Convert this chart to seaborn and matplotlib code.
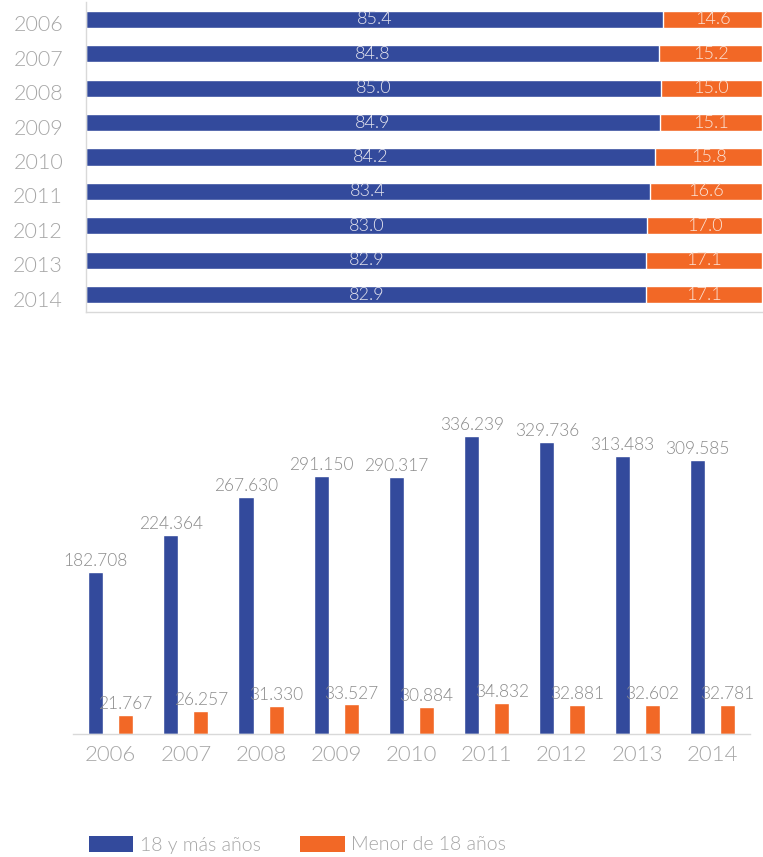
import matplotlib
matplotlib.use("Agg")
import matplotlib.pyplot as plt
import matplotlib.transforms as mtransforms
import seaborn as sns
import pandas as pd
import numpy as np
from matplotlib.patches import Patch

years = ["2006", "2007", "2008", "2009", "2010", "2011", "2012", "2013", "2014"]
pct_adult = [85.4, 84.8, 85.0, 84.9, 84.2, 83.4, 83.0, 82.9, 82.9]
pct_minor = [14.6, 15.2, 15.0, 15.1, 15.8, 16.6, 17.0, 17.1, 17.1]
cnt_adult = [182708, 224364, 267630, 291150, 290317, 336239, 329736, 313483, 309585]
cnt_minor = [21767, 26257, 31330, 33527, 30884, 34832, 32881, 32602, 32781]
series = ["18 y más años", "Menor de 18 años"]

BLUE = "#334A9C"
ORANGE = "#F26826"
GRAY = "#A6A6A6"
LGRAY = "#D9D9D9"
FW = 300

sns.set_style("white")
plt.rcParams["font.family"] = ["Lato", "DejaVu Sans"]

fig = plt.figure(figsize=(7.63, 8.57), dpi=100)
W, H = 763, 857

# ---------- top: 100% stacked horizontal bars ----------
ax1 = fig.add_axes([86 / W, 1 - 312 / H, (762 - 86) / W, (312 - 2) / H])
df_top = pd.DataFrame({"year": years, "adult": pct_adult, "minor": pct_minor})
df_top["total"] = df_top["adult"] + df_top["minor"]
sns.barplot(data=df_top, y="year", x="total", color=ORANGE, width=0.5,
            orient="h", ax=ax1, saturation=1)
sns.barplot(data=df_top, y="year", x="adult", color=BLUE, width=0.5,
            orient="h", ax=ax1, saturation=1)
ax1.set_xlim(0, 100)
ax1.set_ylim(8.5, -0.5)
for i, (a, m) in enumerate(zip(pct_adult, pct_minor)):
    ax1.text(a / 2, i, f"{a:.1f}", ha="center", va="center", fontsize=13,
             color="#E4E4EE", fontweight=FW)
    ax1.text(a + m / 2, i, f"{m:.1f}", ha="center", va="center", fontsize=13,
             color="#FBE3D6", fontweight=FW)
ax1.set_xlabel("")
ax1.set_ylabel("")
ax1.set_xticks([])
ax1.tick_params(axis="y", length=0, labelsize=15.5, labelcolor=GRAY, pad=16.5)
shift = mtransforms.ScaledTranslation(0, -4 / 100, fig.dpi_scale_trans)
for lab in ax1.get_yticklabels():
    lab.set_fontweight(FW)
    lab.set_transform(lab.get_transform() + shift)
for s in ["top", "right"]:
    ax1.spines[s].set_visible(False)
for s in ["left", "bottom"]:
    ax1.spines[s].set_color(LGRAY)
    ax1.spines[s].set_linewidth(1)

# ---------- bottom: grouped vertical bars ----------
ax2 = fig.add_axes([73 / W, 1 - 734 / H, (750 - 73) / W, (734 - 400) / H])
df_bot = pd.DataFrame({
    "year": years * 2,
    "value": cnt_adult + cnt_minor,
    "serie": [series[0]] * len(years) + [series[1]] * len(years),
})
sns.barplot(data=df_bot, x="year", y="value", hue="serie",
            palette=[BLUE, ORANGE], width=0.8, gap=0.5, ax=ax2,
            saturation=1, legend=False)
ax2.set_xlim(-0.5, 8.5)
ax2.set_ylim(0, 377000)

def fmt(v):
    return f"{v:,}".replace(",", ".")

for cont in ax2.containers:
    ax2.bar_label(cont, labels=[fmt(int(round(b.get_height()))) for b in cont],
                  padding=2, fontsize=12.5, color="#8C8C8C", fontweight=FW)

ax2.set_xlabel("")
ax2.set_ylabel("")
ax2.set_yticks([])
ax2.tick_params(axis="x", length=0, labelsize=16, labelcolor=GRAY, pad=8)
for lab in ax2.get_xticklabels():
    lab.set_fontweight(FW)
for s in ["top", "right", "left"]:
    ax2.spines[s].set_visible(False)
ax2.spines["bottom"].set_color(LGRAY)
ax2.spines["bottom"].set_linewidth(1)

# ---------- legend ----------
handles = [Patch(facecolor=BLUE, edgecolor="none"),
           Patch(facecolor=ORANGE, edgecolor="none")]
leg = fig.legend(handles, series, loc="lower left",
                 bbox_to_anchor=(71 / W, 1 - 871 / H), ncol=2, frameon=False,
                 handlelength=2.3, handleheight=0.85,
                 handletextpad=0.35, columnspacing=2.0, labelcolor=GRAY,
                 prop={"weight": FW, "size": 14})

fig.savefig("out.png", dpi=100)
